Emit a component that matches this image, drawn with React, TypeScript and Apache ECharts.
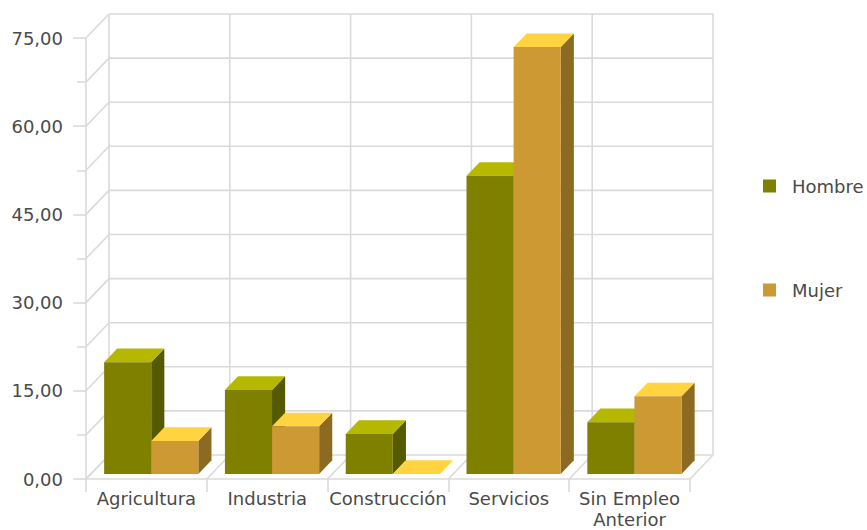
import React, { useEffect, useRef } from "react";
import * as echarts from "echarts";

const categories = ["Agricultura", "Industria", "Construcción", "Servicios", "Sin Empleo\nAnterior"];
const seriesNames = ["Hombre", "Mujer"];
const hombre = [19.0, 14.3, 6.8, 50.7, 8.8];
const mujer = [5.6, 8.1, 0, 72.6, 13.2];
const yMax = 75;
const yInterval = 15;
const yMinor = 7.5;

const DX = 23;
const DY = -24;
const F1 = 0.21;
const F2 = 0.78;
const GRID = "#dadada";
const FONT = "DejaVu Sans";
const TEXT = "#4a4a4a";

const palettes = [
  { front: "#808000", top: "#b6b800", side: "#555a00" },
  { front: "#cc9933", top: "#ffd440", side: "#8c6a22" },
];

function gridRender(params: any, api: any) {
  const origin = api.coord([0, 0]);
  const band = api.size([1, 0])[0];
  const xL = origin[0] - band / 2;
  const n = categories.length;
  const xR = xL + n * band;
  const y0 = origin[1];
  const yTop = api.coord([0, yMax])[1];
  const children: any[] = [];
  const line = (x1: number, y1: number, x2: number, y2: number) =>
    children.push({
      type: "line",
      shape: { x1, y1, x2, y2 },
      style: { stroke: GRID, lineWidth: 1.6 },
    });
  for (let v = 0; v <= yMax + 1e-9; v += yMinor) {
    const y = api.coord([0, v])[1];
    line(xL + DX, y + DY, xR + DX, y + DY);
    line(xL, y, xL + DX, y + DY);
  }
  for (let b = 0; b <= n; b++) {
    const x = xL + b * band;
    line(x + DX, y0 + DY, x + DX, yTop + DY);
    line(x, y0, x + DX, y0 + DY);
  }
  return { type: "group", children };
}

function makeBarRender(idx: number) {
  const pal = palettes[idx];
  return (params: any, api: any) => {
    const i = api.value(0);
    const v = api.value(1);
    const base = api.coord([i, 0]);
    const top = api.coord([i, v]);
    const band = api.size([1, 0])[0];
    const bw = band * 0.39;
    const x0 = base[0] - bw + idx * bw + F1 * DX;
    const x1 = x0 + bw;
    const yb = base[1] + F1 * DY;
    const yt = top[1] + F1 * DY;
    const ddx = (F2 - F1) * DX;
    const ddy = (F2 - F1) * DY;
    return {
      type: "group",
      children: [
        {
          type: "polygon",
          shape: { points: [[x1, yt], [x1 + ddx, yt + ddy], [x1 + ddx, yb + ddy], [x1, yb]] },
          style: { fill: pal.side },
        },
        {
          type: "polygon",
          shape: { points: [[x0, yt], [x1, yt], [x1 + ddx, yt + ddy], [x0 + ddx, yt + ddy]] },
          style: { fill: pal.top },
        },
        {
          type: "rect",
          shape: { x: x0, y: yt, width: bw, height: yb - yt },
          style: { fill: pal.front },
        },
      ],
    };
  };
}

export default function App() {
  const ref = useRef<HTMLDivElement>(null);
  useEffect(() => {
    if (!ref.current) return;
    const chart = echarts.init(ref.current, undefined, { renderer: "svg" });
    const dataSets = [hombre, mujer];
    chart.setOption({
      animation: false,
      backgroundColor: "#ffffff",
      grid: { left: 86, right: 177, top: 38, bottom: 50 },
      legend: {
        data: seriesNames,
        orient: "vertical",
        left: 763,
        top: 177,
        padding: 0,
        itemWidth: 13,
        itemHeight: 13,
        itemGap: 86,
        icon: "rect",
        selectedMode: false,
        textStyle: { fontFamily: FONT, fontSize: 18, color: TEXT, padding: [0, 0, 0, 11] },
      },
      xAxis: {
        type: "category",
        data: categories,
        axisLine: { show: true, lineStyle: { color: GRID, width: 1.6 } },
        axisTick: { show: true, length: 13, lineStyle: { color: GRID, width: 1.6 } },
        axisLabel: { interval: 0, color: TEXT, fontFamily: FONT, fontSize: 18, margin: 9, lineHeight: 21 },
        splitLine: { show: false },
      },
      yAxis: {
        type: "value",
        min: 0,
        max: yMax,
        interval: yInterval,
        axisLine: { show: true, lineStyle: { color: GRID, width: 1.6 } },
        axisTick: { show: true, length: 13, lineStyle: { color: GRID, width: 1.6 } },
        minorTick: { show: true, splitNumber: yInterval / yMinor, length: 9, lineStyle: { color: GRID, width: 1.6 } },
        axisLabel: {
          color: TEXT,
          fontFamily: FONT,
          fontSize: 18,
          margin: 23,
          formatter: (v: number) => v.toFixed(2).replace(".", ","),
        },
        splitLine: { show: false },
      },
      series: [
        {
          type: "custom",
          name: "_grid",
          silent: true,
          z: 1,
          data: [[0, 0]],
          renderItem: gridRender,
        },
        ...seriesNames.map((name, idx) => ({
          type: "custom",
          name,
          z: 2,
          itemStyle: { color: palettes[idx].front },
          data: dataSets[idx].map((v, i) => [i, v]),
          renderItem: makeBarRender(idx),
        })),
      ],
    });
    return () => chart.dispose();
  }, []);
  return <div ref={ref} style={{ width: 867, height: 530, position: "absolute", left: 0, top: 0 }} />;
}
